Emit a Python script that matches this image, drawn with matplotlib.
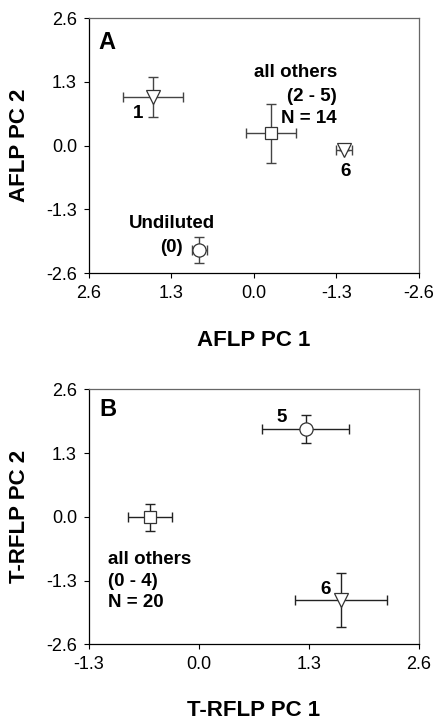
import matplotlib
matplotlib.use("Agg")
from matplotlib import pyplot as plt

plt.rcParams['font.family'] = ['Liberation Sans', 'DejaVu Sans']

# Panel A: AFLP group means (1, all others, 6, undiluted)
aflp_pc1 = [1.59, -0.27, -1.42, 0.86]
aflp_pc2 = [0.99, 0.25, -0.09, -2.13]
aflp_pc1_err = [0.47, 0.39, 0.12, 0.12]
aflp_pc2_err = [0.40, 0.60, 0.0, 0.26]
aflp_markers = ['v', 's', 'v', 'o']

# Panel B: T-RFLP group means (5, all others, 6)
trflp_pc1 = [1.26, -0.58, 1.68]
trflp_pc2 = [1.79, -0.01, -1.69]
trflp_pc1_err = [0.51, 0.26, 0.54]
trflp_pc2_err = [0.29, 0.28, 0.55]
trflp_markers = ['o', 's', 'v']

ticks = [-2.6, -1.3, 0.0, 1.3, 2.6]
xticks_b = [-1.3, 0.0, 1.3, 2.6]

fig = plt.figure(figsize=(4.36, 7.24), dpi=100)
ax_a = fig.add_axes([0.2034, 0.6229, 0.7576, 0.3522])
ax_b = fig.add_axes([0.2034, 0.1101, 0.7576, 0.3522])


def draw_points(ax, xs, ys, xe, ye, markers, ecolor):
	for i in range(len(xs)):
		ax.errorbar(xs[i], ys[i], xerr=xe[i], yerr=ye[i], fmt='none',
			ecolor=ecolor, elinewidth=1.0, capsize=3.5, capthick=1.0, zorder=2)
		ax.plot(xs[i], ys[i], marker=markers[i], markersize=9.5 if markers[i] != 's' else 8.5,
			markerfacecolor='white', markeredgecolor='#333333', markeredgewidth=0.9,
			linestyle='none', zorder=3)


def style_axes(ax):
	ax.tick_params(direction='out', length=3.5, width=0.8, labelsize=13, pad=5)
	ax.tick_params(top=False, right=False)
	for side in ['top', 'right']:
		ax.spines[side].set_color('#666666')
	for side in ['left', 'bottom']:
		ax.spines[side].set_color('black')
	for s in ax.spines.values():
		s.set_linewidth(0.9)


draw_points(ax_a, aflp_pc1, aflp_pc2, aflp_pc1_err, aflp_pc2_err, aflp_markers, '#444444')
ax_a.set_xlim(2.6, -2.6)
ax_a.set_ylim(-2.6, 2.6)
ax_a.set_xticks(ticks[::-1])
ax_a.set_yticks(ticks)
ax_a.set_xticklabels(['2.6', '1.3', '0.0', '-1.3', '-2.6'])
ax_a.set_yticklabels(['-2.6', '-1.3', '0.0', '1.3', '2.6'])
style_axes(ax_a)
ax_a.set_xlabel('AFLP PC 1', fontsize=16, fontweight='bold', va='center')
ax_a.set_ylabel('AFLP PC 2', fontsize=16, fontweight='bold', va='center')
ax_a.xaxis.set_label_coords(0.5, -0.263)
ax_a.yaxis.set_label_coords(-0.208, 0.5)

bold = dict(fontsize=13.5, fontweight='bold', va='center')
ax_a.text(2.45, 2.11, 'A', fontsize=17, fontweight='bold', ha='left', va='center')
ax_a.text(-1.31, 1.48, 'all others', ha='right', **bold)
ax_a.text(-1.31, 0.99, '(2 - 5)', ha='right', **bold)
ax_a.text(-1.31, 0.55, 'N = 14', ha='right', **bold)
ax_a.text(1.83, 0.66, '1', ha='center', **bold)
ax_a.text(-1.44, -0.52, '6', ha='center', **bold)
ax_a.text(1.29, -1.58, 'Undiluted', ha='center', **bold)
ax_a.text(1.12, -2.07, '(0)', ha='right', **bold)

draw_points(ax_b, trflp_pc1, trflp_pc2, trflp_pc1_err, trflp_pc2_err, trflp_markers, '#222222')
ax_b.set_xlim(-1.3, 2.6)
ax_b.set_ylim(-2.6, 2.6)
ax_b.set_xticks(xticks_b)
ax_b.set_yticks(ticks)
ax_b.set_xticklabels(['-1.3', '0.0', '1.3', '2.6'])
ax_b.set_yticklabels(['-2.6', '-1.3', '0.0', '1.3', '2.6'])
style_axes(ax_b)
ax_b.set_xlabel('T-RFLP PC 1', fontsize=16, fontweight='bold', va='center')
ax_b.set_ylabel('T-RFLP PC 2', fontsize=16, fontweight='bold', va='center')
ax_b.xaxis.set_label_coords(0.5, -0.258)
ax_b.yaxis.set_label_coords(-0.208, 0.5)

ax_b.text(-1.175, 2.18, 'B', fontsize=17, fontweight='bold', ha='left', va='center')
ax_b.text(0.98, 2.02, '5', ha='center', **bold)
ax_b.text(1.50, -1.48, '6', ha='center', **bold)
ax_b.text(-1.07, -0.87, 'all others', ha='left', **bold)
ax_b.text(-1.07, -1.32, '(0 - 4)', ha='left', **bold)
ax_b.text(-1.07, -1.75, 'N = 20', ha='left', **bold)

fig.savefig('out.png', dpi=100)
